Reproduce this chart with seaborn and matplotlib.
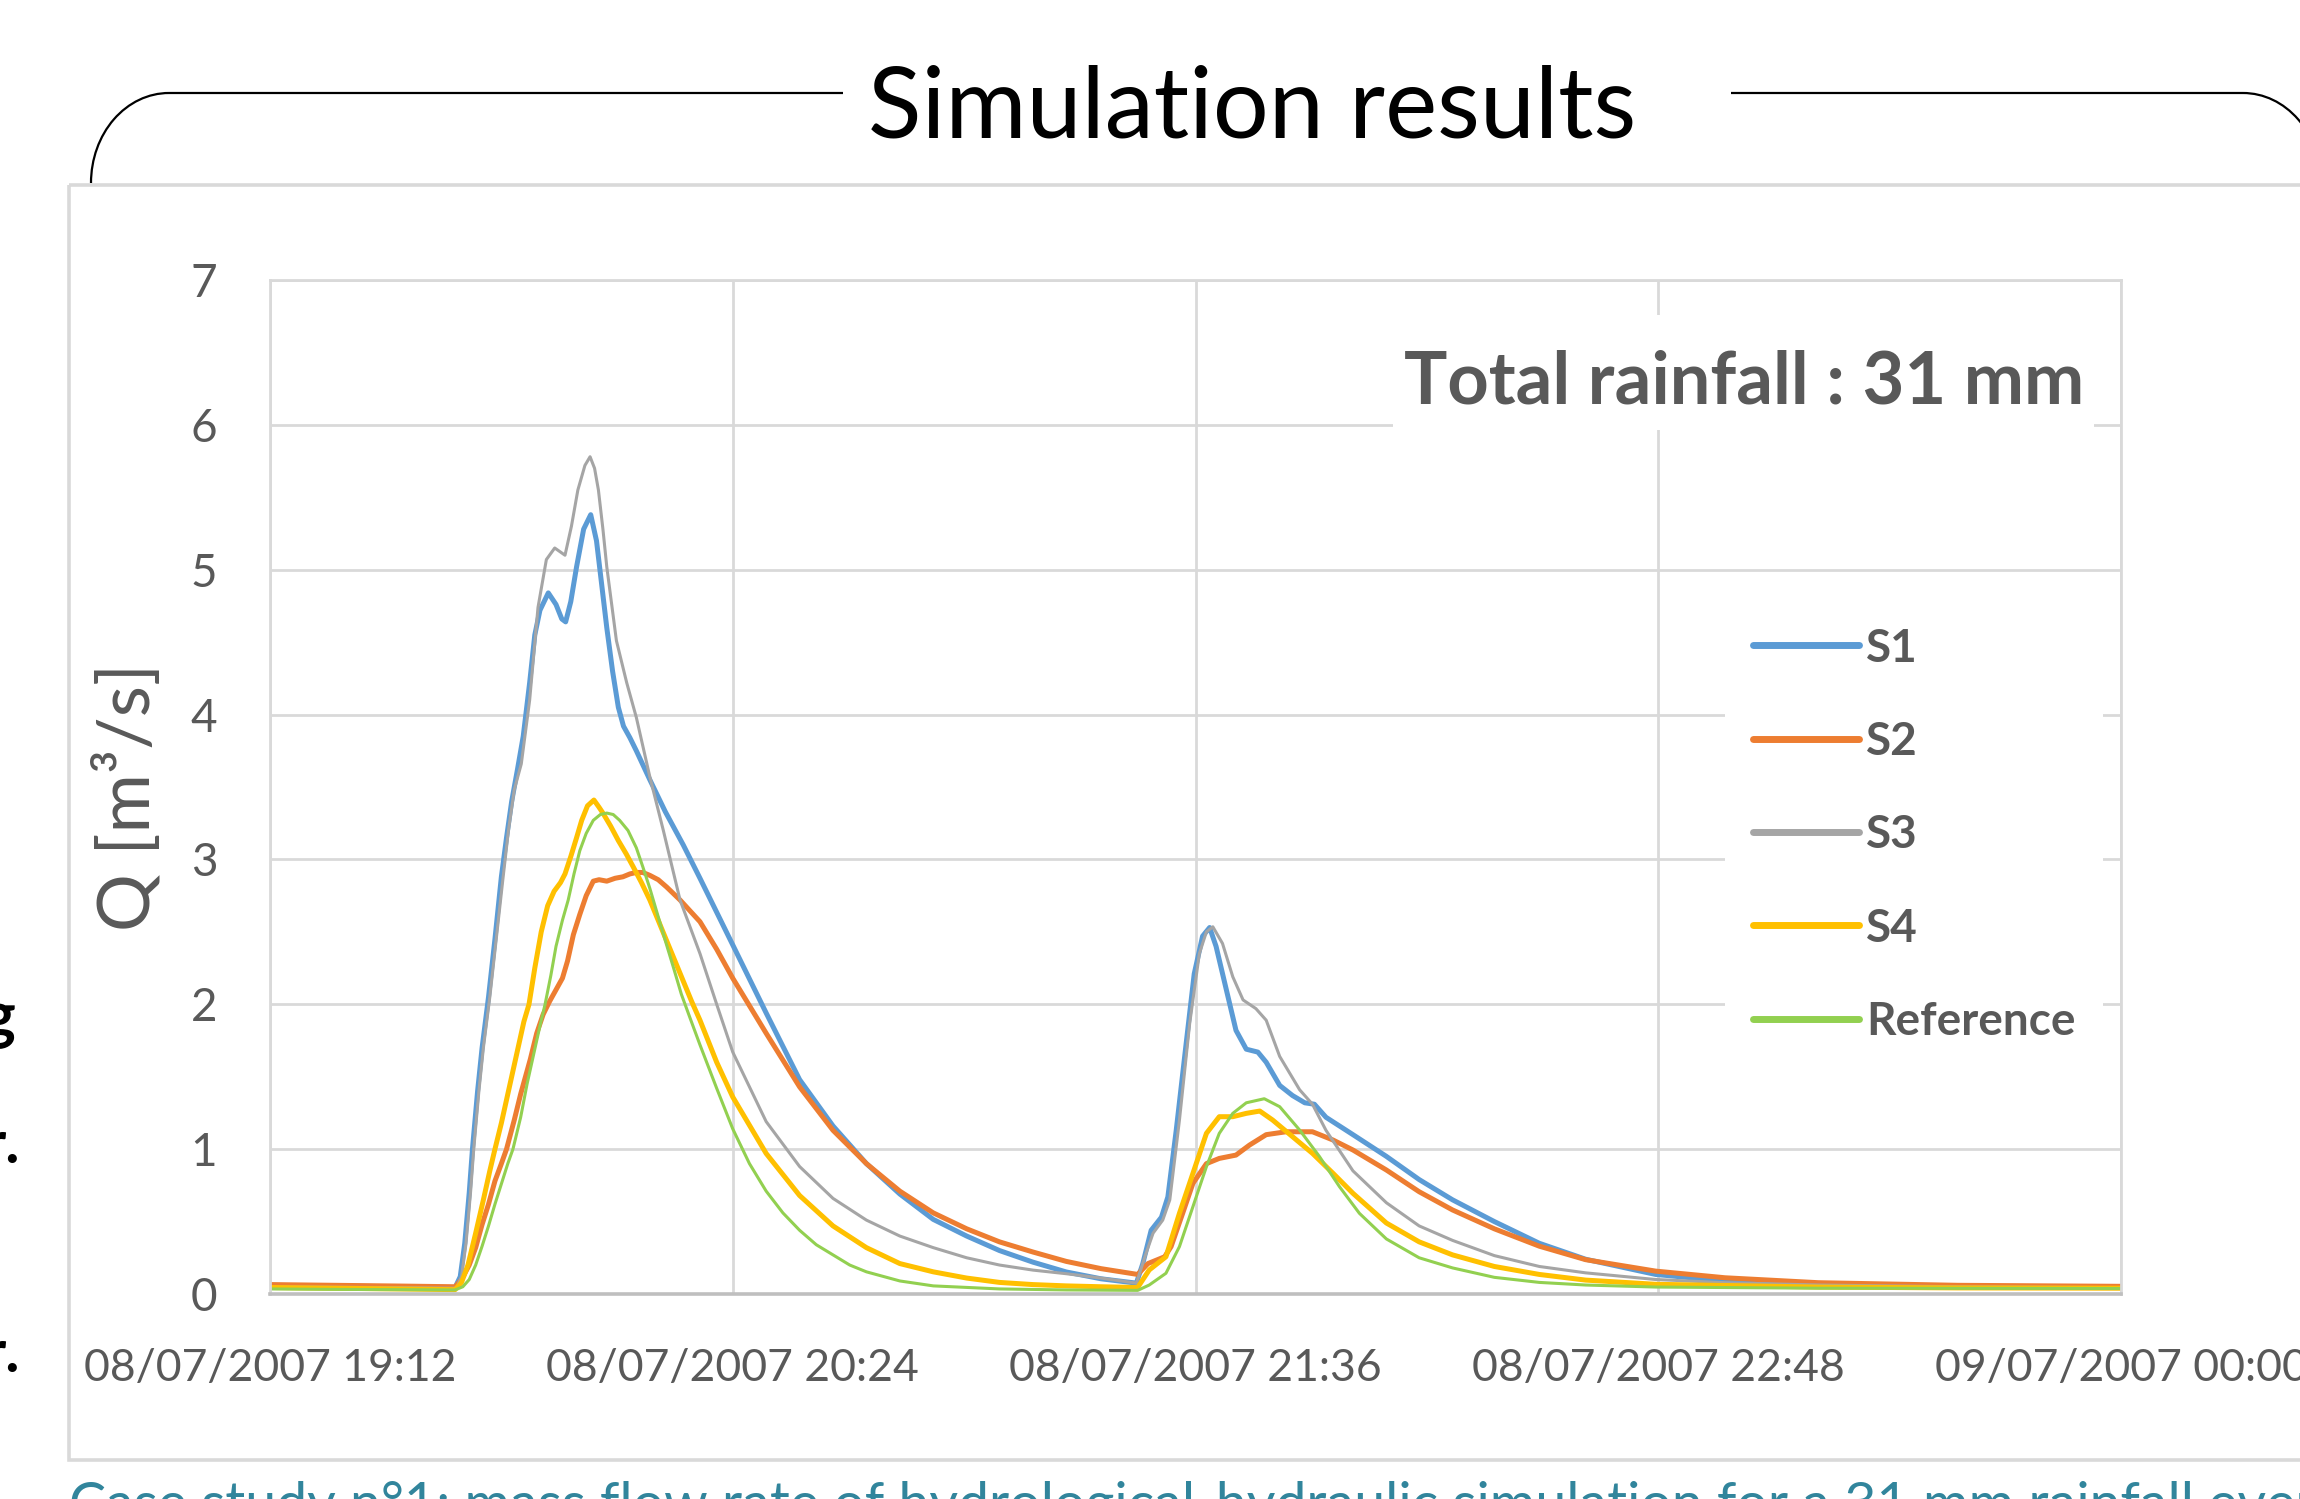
import numpy as np
import pandas as pd
import matplotlib
matplotlib.use("Agg")
import matplotlib.pyplot as plt
import matplotlib.dates as mdates
from matplotlib.patches import Rectangle, Arc
from matplotlib.lines import Line2D
import seaborn as sns

# ---------------------------------------------------------------- data
start_time = "2007-07-08 19:12"
series_names = ["S1", "S2", "S3", "S4", "Reference"]

# minutes after 19:12 and flow rate Q [m3/s]
s1_minutes = [0, 10, 20, 28.8, 29.6, 30.3, 31.0, 31.5, 32.3, 33.0, 34.0, 35.0, 36.0, 36.8,
              37.6, 38.5, 39.4, 40.4, 41.2, 42.0, 43.3, 44.5, 45.4, 46.0, 46.8, 47.7, 48.8,
              49.9, 50.8, 51.6, 52.4, 53.3, 54.2, 55.0, 56.0, 57.0, 59.1, 61.5, 64.3, 66.9,
              72.0, 77.2, 82.4, 87.6, 92.8, 98.0, 103.2, 108.4, 113.5, 118.7, 123.9, 129.3,
              134.8, 135.8, 137.1, 138.7, 139.7, 141.0, 142.6, 143.8, 145.1, 146.2, 147.2,
              148.8, 150.3, 151.9, 153.7, 155.0, 157.1, 159.1, 161.0, 162.5, 164.3, 168.5,
              173.7, 178.8, 184.0, 190.5, 197.5, 204.7, 215.6, 226.4, 240.9, 262.6, 288]
s1_flow = [0.06, 0.055, 0.05, 0.045, 0.12, 0.35, 0.70, 1.00, 1.40, 1.70, 2.05, 2.45, 2.88, 3.15,
           3.40, 3.62, 3.85, 4.22, 4.55, 4.72, 4.84, 4.76, 4.66, 4.64, 4.78, 5.02, 5.28,
           5.38, 5.20, 4.90, 4.60, 4.30, 4.05, 3.92, 3.84, 3.75, 3.55, 3.33, 3.10, 2.87,
           2.41, 1.94, 1.48, 1.16, 0.90, 0.69, 0.515, 0.40, 0.30, 0.22, 0.152, 0.105,
           0.075, 0.21, 0.44, 0.53, 0.67, 1.13, 1.75, 2.21, 2.47, 2.53, 2.40,
           2.10, 1.82, 1.69, 1.67, 1.60, 1.44, 1.37, 1.32, 1.31, 1.22, 1.10,
           0.95, 0.79, 0.65, 0.50, 0.35, 0.24, 0.135, 0.09, 0.062, 0.048, 0.044]

s2_minutes = [0, 10, 20, 28.8, 29.8, 31.0, 32.0, 33.0, 34.0, 35.0, 36.0, 36.8, 38.0, 39.0,
              40.5, 41.5, 42.5, 43.5, 44.5, 45.5, 46.3, 47.2, 48.2, 49.2, 50.3, 51.2, 52.4,
              53.7, 54.9, 56.0, 57.0, 58.0, 59.1, 60.4, 61.7, 63.8, 66.9, 69.5, 72.0, 77.2,
              82.4, 87.6, 92.8, 98.0, 103.2, 108.4, 113.5, 118.7, 123.9, 129.3, 135.0, 136.6,
              139.2, 140.2, 142.0, 143.6, 145.7, 147.7, 150.3, 152.4, 155.0, 158.1, 162.2,
              165.4, 168.5, 173.7, 178.8, 184.0, 190.5, 197.5, 204.7, 215.6, 226.4, 240.9,
              262.6, 288]
s2_flow = [0.065, 0.06, 0.055, 0.05, 0.10, 0.20, 0.32, 0.48, 0.62, 0.78, 0.90, 1.00, 1.20, 1.38,
           1.62, 1.80, 1.93, 2.02, 2.10, 2.18, 2.30, 2.48, 2.62, 2.75, 2.85, 2.86, 2.85,
           2.87, 2.88, 2.90, 2.91, 2.91, 2.89, 2.86, 2.81, 2.72, 2.57, 2.38, 2.18, 1.80,
           1.43, 1.13, 0.90, 0.71, 0.56, 0.45, 0.36, 0.29, 0.225, 0.175, 0.135, 0.21,
           0.257, 0.327, 0.557, 0.764, 0.90, 0.936, 0.959, 1.028, 1.10, 1.12, 1.12,
           1.063, 0.994, 0.856, 0.706, 0.58, 0.45, 0.33, 0.237, 0.158, 0.112, 0.078,
           0.06, 0.053]

s3_minutes = [0, 10, 20, 29.0, 29.8, 30.5, 31.2, 31.7, 32.5, 33.2, 34.2, 35.2, 36.2, 37.1,
              38.0, 39.1, 40.4, 41.7, 43.0, 44.3, 45.9, 46.9, 47.9, 49.0, 49.8, 50.5, 51.1,
              51.8, 52.4, 53.9, 55.5, 57.0, 59.1, 61.2, 63.8, 66.9, 69.5, 72.0, 77.2, 82.4,
              87.6, 92.8, 98.0, 103.2, 108.4, 113.5, 118.7, 123.9, 129.3, 134.8, 136.3, 137.4,
              138.9, 140.0, 141.5, 143.1, 144.6, 145.7, 146.7, 148.2, 149.8, 151.4, 153.4,
              155.0, 157.1, 160.2, 162.2, 164.3, 168.5, 173.7, 178.8, 184.0, 190.5, 197.5,
              204.7, 215.6, 226.4, 240.9, 262.6, 288]
s3_flow = [0.05, 0.047, 0.044, 0.04, 0.12, 0.35, 0.70, 1.00, 1.40, 1.70, 2.05, 2.45, 2.85, 3.20,
           3.48, 3.66, 4.10, 4.74, 5.07, 5.15, 5.10, 5.30, 5.55, 5.72, 5.78, 5.70, 5.55,
           5.28, 5.02, 4.51, 4.22, 3.98, 3.57, 3.20, 2.72, 2.35, 2.00, 1.67, 1.19, 0.88,
           0.66, 0.51, 0.40, 0.32, 0.25, 0.20, 0.165, 0.14, 0.11, 0.075, 0.28, 0.42,
           0.51, 0.65, 1.20, 1.87, 2.35, 2.50, 2.535, 2.42, 2.19, 2.03, 1.97,
           1.89, 1.64, 1.41, 1.31, 1.13, 0.85, 0.63, 0.47, 0.37, 0.265, 0.19,
           0.146, 0.10, 0.078, 0.062, 0.05, 0.044]

s4_minutes = [0, 10, 20, 28.8, 29.8, 30.8, 32.0, 33.2, 34.2, 35.0, 36.0, 37.2, 38.5, 39.5,
              40.3, 41.2, 42.2, 43.2, 44.2, 45.2, 45.9, 46.8, 47.7, 48.5, 49.4, 50.4, 51.2,
              51.8, 53.0, 54.2, 55.4, 56.5, 57.8, 59.1, 60.4, 61.7, 63.0, 64.3, 65.6, 66.9,
              69.5, 72.0, 77.2, 82.4, 87.6, 92.8, 98.0, 103.2, 108.4, 113.5, 118.7, 123.9,
              129.3, 135.0, 136.8, 139.4, 141.5, 143.6, 145.7, 147.7, 149.8, 151.9, 154.0,
              156.0, 159.1, 162.2, 165.4, 168.5, 173.7, 178.8, 184.0, 190.5, 197.5, 204.7,
              215.6, 240.9, 262.6, 288]
s4_flow = [0.045, 0.04, 0.035, 0.03, 0.08, 0.20, 0.42, 0.65, 0.85, 1.00, 1.18, 1.42, 1.68, 1.88,
           2.00, 2.25, 2.50, 2.68, 2.78, 2.84, 2.90, 3.02, 3.15, 3.27, 3.37, 3.41, 3.36,
           3.32, 3.23, 3.13, 3.04, 2.95, 2.84, 2.72, 2.58, 2.44, 2.30, 2.16, 2.02, 1.89,
           1.60, 1.36, 0.97, 0.68, 0.47, 0.32, 0.21, 0.153, 0.11, 0.08, 0.065, 0.056,
           0.05, 0.045, 0.166, 0.257, 0.557, 0.833, 1.109, 1.224, 1.224, 1.247, 1.263,
           1.201, 1.086, 0.971, 0.833, 0.695, 0.49, 0.36, 0.27, 0.19, 0.135, 0.096,
           0.067, 0.048, 0.042, 0.04]

ref_minutes = [0, 10, 20, 28.8, 30.0, 31.0, 32.0, 33.0, 34.0, 35.0, 36.0, 37.0, 37.8, 39.0,
               40.0, 41.0, 42.0, 42.8, 43.7, 44.5, 45.5, 46.4, 47.3, 48.2, 49.2, 50.3, 51.4,
               52.4, 53.4, 54.4, 55.7, 57.0, 58.0, 59.1, 60.3, 61.5, 62.8, 64.0, 65.4, 66.9,
               69.5, 72.0, 74.6, 77.2, 79.8, 82.4, 85.0, 87.6, 90.2, 92.8, 98.0, 103.2, 113.5,
               124.0, 135.0, 136.8, 139.4, 141.5, 143.6, 145.7, 147.7, 149.8, 151.9, 154.7,
               157.1, 160.2, 163.3, 166.4, 169.5, 173.7, 178.8, 184.0, 190.5, 197.5, 204.7,
               215.6, 240.9, 288]
ref_flow = [0.035, 0.032, 0.03, 0.028, 0.05, 0.10, 0.20, 0.33, 0.47, 0.62, 0.76, 0.90, 1.00, 1.22,
            1.45, 1.65, 1.85, 2.00, 2.20, 2.40, 2.58, 2.72, 2.90, 3.06, 3.18, 3.27, 3.31,
            3.32, 3.31, 3.27, 3.20, 3.08, 2.95, 2.80, 2.62, 2.44, 2.25, 2.07, 1.90, 1.72,
            1.42, 1.14, 0.90, 0.71, 0.56, 0.44, 0.34, 0.27, 0.20, 0.153, 0.09, 0.056, 0.035,
            0.028, 0.025, 0.062, 0.143, 0.327, 0.603, 0.879, 1.109, 1.247, 1.32, 1.348,
            1.293, 1.132, 0.948, 0.741, 0.557, 0.38, 0.25, 0.18, 0.115, 0.08, 0.062,
            0.048, 0.04, 0.038]

tick_stamps = ["2007-07-08 19:12", "2007-07-08 20:24", "2007-07-08 21:36",
               "2007-07-08 22:48", "2007-07-09 00:00"]
tick_labels = ["08/07/2007 19:12", "08/07/2007 20:24", "08/07/2007 21:36",
               "08/07/2007 22:48", "09/07/2007 00:00"]
y_ticks = [0, 1, 2, 3, 4, 5, 6, 7]

title_text = "Simulation results"
rain_text = "Total rainfall : 31 mm"
y_label = "Q [m³/s]"
caption_text = ("Case study n°1: mass flow rate of hydrological-hydraulic simulation "
                "for a 31 mm rainfall event")

# ---------------------------------------------------------------- styles
series_colors = ["#5B9BD5", "#ED7D31", "#A5A5A5", "#FFC000", "#92D050"]
line_widths = [3.6, 3.6, 2.2, 3.6, 2.2]
TXT = "#595959"
GRID = "#d9d9d9"

sns.set_theme(style="white")
plt.rcParams["font.family"] = ["Lato", "DejaVu Sans"]

minutes_all = [s1_minutes, s2_minutes, s3_minutes, s4_minutes, ref_minutes]
flow_all = [s1_flow, s2_flow, s3_flow, s4_flow, ref_flow]
t0 = pd.Timestamp(start_time)
frames = []
for name, mins, flows in zip(series_names, minutes_all, flow_all):
    frames.append(pd.DataFrame({
        "time": t0 + pd.to_timedelta(np.asarray(mins, dtype=float), unit="m"),
        "flow": flows,
        "series": name,
    }))
df = pd.concat(frames, ignore_index=True)

W, H = 2300, 1499
fig = plt.figure(figsize=(W / 100, H / 100), dpi=100)
fig.patch.set_facecolor("white")

# ------------------------------------------------ slide decorations (pixel space)
bg = fig.add_axes([0, 0, 1, 1], zorder=0)
bg.set_xlim(0, W)
bg.set_ylim(H, 0)
bg.axis("off")

bg.add_patch(Rectangle((69, 185), 2600, 1459.5 - 185, fill=False, ec=GRID, lw=2.6))
bg.plot([169, 843], [93, 93], color="black", lw=1.6, solid_capstyle="butt")
bg.add_patch(Arc((169, 183), 156, 180, theta1=180, theta2=270, color="black", lw=1.6))
bg.plot([1731, 2243], [93, 93], color="black", lw=1.6, solid_capstyle="butt")
bg.add_patch(Arc((2243, 183), 156, 180, theta1=270, theta2=360, color="black", lw=1.6))

bg.text(1252, 137, title_text, ha="center", va="baseline", fontsize=71,
        fontweight="normal", color="black")
# edges of the neighbouring slide text, cut by the left border
bg.text(15, 1037, "g", ha="right", va="baseline", fontsize=46, fontweight="bold",
        color="black")
bg.text(20, 1163, "r.", ha="right", va="baseline", fontsize=43, fontweight="bold",
        color="black")
bg.text(20, 1372, "r.", ha="right", va="baseline", fontsize=43, fontweight="bold",
        color="black")
bg.text(69, 1522, caption_text, ha="left", va="baseline", fontsize=40, color="#31859C")

# ------------------------------------------------ chart
AX_L, AX_R, AX_T, AX_B = 270, 2121, 280, 1294
ax = fig.add_axes([AX_L / W, 1 - AX_B / H, (AX_R - AX_L) / W, (AX_B - AX_T) / H], zorder=1)
ax.set_facecolor("white")

sns.lineplot(data=df, x="time", y="flow", hue="series", hue_order=series_names,
             palette=dict(zip(series_names, series_colors)),
             size="series", size_order=series_names,
             sizes=dict(zip(series_names, line_widths)),
             estimator=None, legend=False, ax=ax,
             solid_joinstyle="round", solid_capstyle="round")

tick_times = [mdates.date2num(pd.Timestamp(s)) for s in tick_stamps]
ax.set_xlim(tick_times[0], tick_times[-1])
ax.set_xticks(tick_times)
ax.set_xticklabels(tick_labels)
ax.set_ylim(y_ticks[0], y_ticks[-1])
ax.set_yticks(y_ticks)
ax.set_xlabel("")
ax.set_ylabel(y_label, fontsize=52, color=TXT, va="center")


def fx(px):
    return (px - AX_L) / (AX_R - AX_L)


def fy(py):
    return (AX_B - py) / (AX_B - AX_T)


ax.yaxis.set_label_coords(fx(127), fy(797))

ax.grid(True, color=GRID, lw=2.0)
ax.set_axisbelow(True)
for side in ["left", "top", "right"]:
    ax.spines[side].set_color(GRID)
    ax.spines[side].set_linewidth(2.0)
ax.spines["bottom"].set_color("#bfbfbf")
ax.spines["bottom"].set_linewidth(2.6)
ax.tick_params(axis="both", length=0, labelcolor=TXT)
ax.tick_params(axis="x", pad=39, labelsize=32)
ax.tick_params(axis="y", pad=38, labelsize=33)

# rainfall annotation on a white patch
ax.add_patch(Rectangle((fx(1393), fy(430)), fx(2094) - fx(1393), fy(315) - fy(430),
                       transform=ax.transAxes, facecolor="white", edgecolor="none",
                       zorder=2.5))
ax.text(fx(1404), fy(403), rain_text, transform=ax.transAxes, ha="left", va="baseline",
        fontsize=52, fontweight="bold", color=TXT, zorder=3)

handles = [Line2D([], [], color=c, lw=5, solid_capstyle="round") for c in series_colors]
leg = ax.legend(handles, series_names, loc="upper left",
                bbox_to_anchor=(fx(1725), fy(600)), frameon=True, fancybox=False,
                facecolor="white", edgecolor="none", framealpha=1, borderpad=0.6,
                borderaxespad=0, handlelength=2.33, handletextpad=0.15, labelspacing=1.12,
                prop={"weight": "bold", "size": 33}, labelcolor=TXT)

fig.savefig("out.png", dpi=100, facecolor="white")
